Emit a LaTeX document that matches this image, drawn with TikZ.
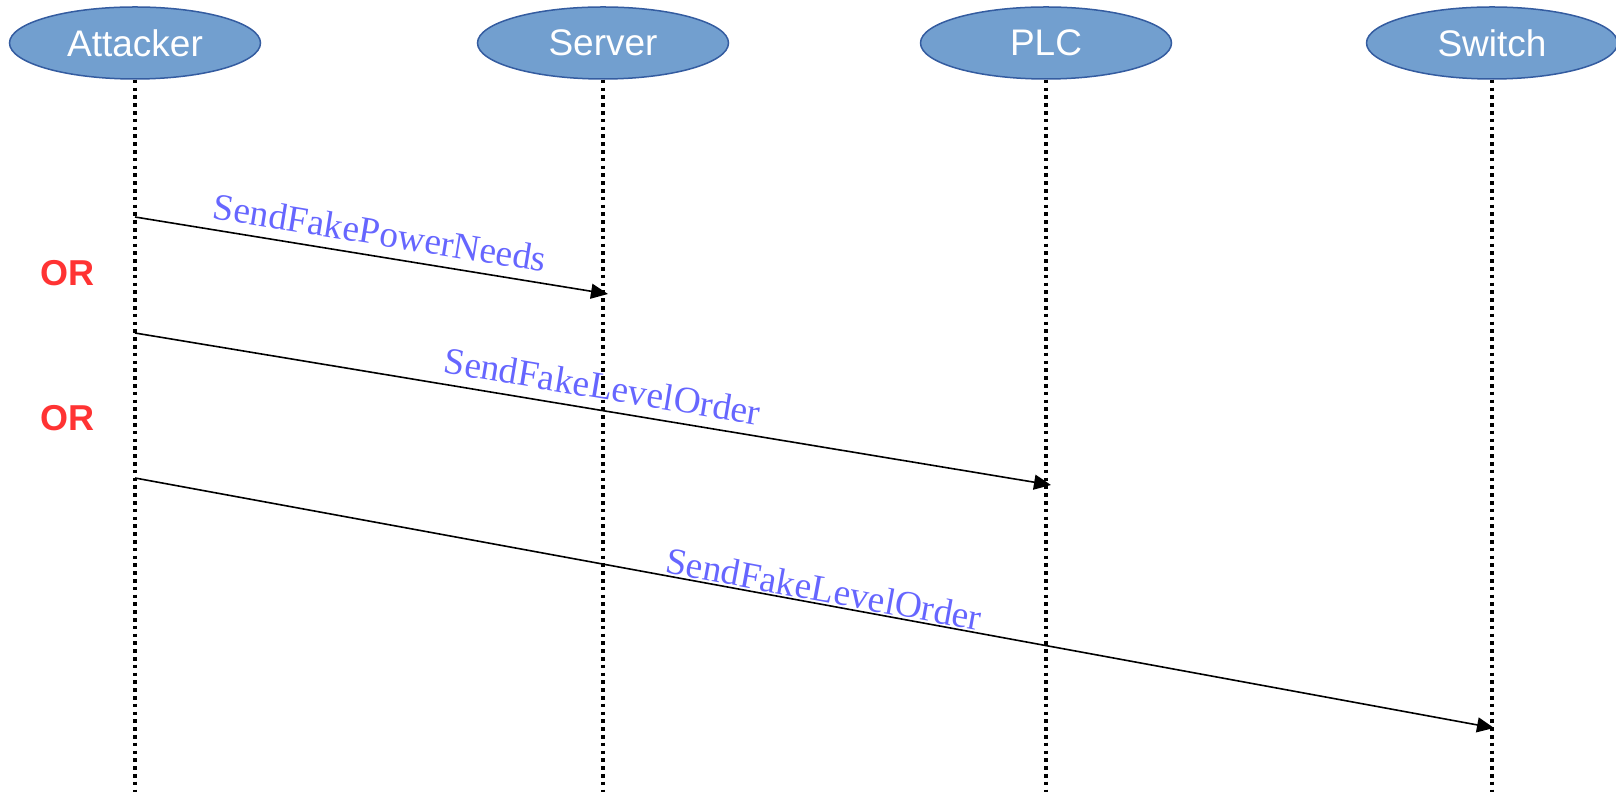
\documentclass[tikz,border=0pt]{standalone}
\usepackage{fontspec}
\setmainfont{Liberation Serif}
\setsansfont{Liberation Sans}
\usetikzlibrary{shapes.geometric,arrows.meta}

\definecolor{actorfill}{RGB}{114,159,207}
\definecolor{actordraw}{RGB}{52,92,160}
\definecolor{msgblue}{RGB}{102,102,255}
\definecolor{orred}{RGB}{255,51,51}

\tikzset{
  actor/.style={ellipse, fill=actorfill, draw=actordraw, line width=0.75pt,
    minimum width=125.5pt, minimum height=36pt, inner sep=0pt,
    text=white, font=\sffamily\fontsize{18.5}{22}\selectfont},
  lifeline/.style={line width=1.8pt, dash pattern=on 1.8pt off 2.1pt},
  msg/.style={line width=0.8pt, -{Triangle[length=8.5pt,width=7.5pt]}},
  msglabel/.style={sloped, text=msgblue, inner sep=3pt,
    font=\rmfamily\fontsize{18.7}{22}\selectfont},
  ortext/.style={text=orred, font=\sffamily\bfseries\fontsize{18}{21}\selectfont}
}

\begin{document}
\begin{tikzpicture}[x=0.5pt,y=-0.5pt]

  \useasboundingbox (0,0) rectangle (1616,795);

  \node[actor] (attacker) at (135,43) {Attacker};
  \node[actor] (server) at (603,43) {Server};
  \node[actor] (plc) at (1046,43) {PLC};
  \node[actor] (switch) at (1492,43) {Switch};

  \coordinate (attackerend) at (135,792);
  \coordinate (serverend) at (603,792);
  \coordinate (plcend) at (1046,792);
  \coordinate (switchend) at (1492,792);

  \draw[lifeline] (attacker.south) -- (attackerend);
  \draw[lifeline] (server.south) -- (serverend);
  \draw[lifeline] (plc.south) -- (plcend);
  \draw[lifeline] (switch.south) -- (switchend);

  \coordinate (a1) at (135,217);
  \coordinate (a2) at (135,333);
  \coordinate (a3) at (135,478);
  \coordinate (s1) at (608,294);
  \coordinate (p2) at (1051,485);
  \coordinate (w3) at (1494,728);

  \draw[msg] (a1) -- node[msglabel, pos=0.51, above=2pt] {SendFakePowerNeeds} (s1);
  \draw[msg] (a2) -- node[msglabel, pos=0.506, above=2pt] {SendFakeLevelOrder} (p2);
  \draw[msg] (a3) -- node[msglabel, pos=0.505, above=-2.3pt] {SendFakeLevelOrder} (w3);

  \node[ortext] (or1) at (67,273) {OR};
  \node[ortext] (or2) at (67,418) {OR};

\end{tikzpicture}
\end{document}
